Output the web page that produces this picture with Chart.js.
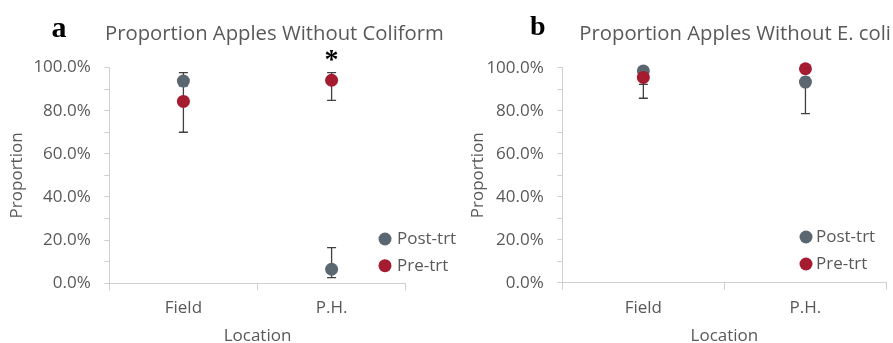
<!DOCTYPE html>
<html>
<head>
<meta charset="utf-8">
<script src="https://cdn.jsdelivr.net/npm/chart.js@4/dist/chart.umd.min.js"></script>
<style>
  html, body { margin: 0; padding: 0; background: #ffffff; }
  body { width: 893px; height: 343px; position: relative; overflow: hidden; }
  .panel { position: absolute; top: 0; height: 343px; }
  #pa { left: 0; width: 470px; }
  #pb { left: 445px; width: 448px; }
</style>
</head>
<body>
<div class="panel" id="pa"><canvas id="ca" width="470" height="343"></canvas></div>
<div class="panel" id="pb"><canvas id="cb" width="448" height="343"></canvas></div>
<script>
// ---- data ----
const categories = ['Field', 'P.H.'];
const seriesNames = ['Post-trt', 'Pre-trt'];
const yTickLabels = ['0.0%', '20.0%', '40.0%', '60.0%', '80.0%', '100.0%'];

// Panel a: Proportion Apples Without Coliform
const coliformPost = [0.937, 0.065];
const coliformPostLow = [0.915, 0.026];
const coliformPostHigh = [0.976, 0.165];
const coliformPre = [0.843, 0.941];
const coliformPreLow = [0.700, 0.848];
const coliformPreHigh = [0.920, 0.976];

// Panel b: Proportion Apples Without E. coli
const ecoliPost = [0.985, 0.933];
const ecoliPostLow = [0.922, 0.786];
const ecoliPostHigh = [0.990, 0.955];
const ecoliPre = [0.955, 0.995];
const ecoliPreLow = [0.858, 0.985];
const ecoliPreHigh = [0.975, 0.998];

const POST_COLOR = '#5b6770';
const PRE_COLOR = '#a51b30';
const TEXT_COLOR = '#595959';
const AXIS_COLOR = '#d0d0d0';
const FONT = '"Open Sans", "DejaVu Sans", sans-serif';

const errorBarPlugin = {
  id: 'errorBars',
  beforeDatasetsDraw(chart) {
    const ctx = chart.ctx;
    const xs = chart.scales.x, ys = chart.scales.y;
    ctx.save();
    ctx.strokeStyle = '#404040';
    ctx.lineWidth = 1.3;
    chart.data.datasets.forEach(ds => {
      ds.data.forEach((v, i) => {
        const x = xs.getPixelForValue(i);
        const yl = ys.getPixelForValue(ds.errLow[i]);
        const yh = ys.getPixelForValue(ds.errHigh[i]);
        ctx.beginPath();
        ctx.moveTo(x, yl); ctx.lineTo(x, yh);
        ctx.moveTo(x - 4.5, yl); ctx.lineTo(x + 4.5, yl);
        ctx.moveTo(x - 4.5, yh); ctx.lineTo(x + 4.5, yh);
        ctx.stroke();
      });
    });
    ctx.restore();
  }
};

const decorPlugin = {
  id: 'decor',
  afterDraw(chart, args, opts) {
    const ctx = chart.ctx;
    ctx.save();
    // panel letter
    ctx.fillStyle = '#000000';
    ctx.textBaseline = 'alphabetic';
    ctx.textAlign = 'left';
    ctx.font = 'bold ' + opts.letterSize + 'px "Liberation Serif", serif';
    ctx.fillText(opts.letter, opts.letterX, opts.letterY);
    // title
    ctx.fillStyle = TEXT_COLOR;
    ctx.font = '20.3px ' + FONT;
    ctx.fillText(opts.title, opts.titleX, opts.titleY);
    // significance marker
    if (opts.star) {
      const xs = chart.scales.x;
      ctx.fillStyle = '#000000';
      ctx.textAlign = 'center';
      ctx.font = 'bold 28px "Liberation Serif", serif';
      ctx.fillText(opts.star.text, xs.getPixelForValue(opts.star.index), opts.star.y);
    }
    // legend
    ctx.textAlign = 'left';
    ctx.textBaseline = 'middle';
    ctx.font = '17px ' + FONT;
    chart.data.datasets.forEach((ds, k) => {
      const y = opts.legendY[k];
      ctx.fillStyle = ds.pointBackgroundColor;
      ctx.beginPath();
      ctx.arc(opts.legendDotX, y, 6.5, 0, Math.PI * 2);
      ctx.fill();
      ctx.fillStyle = TEXT_COLOR;
      ctx.fillText(ds.label, opts.legendTextX, y);
    });
    ctx.restore();
  }
};

function makeChart(canvasId, post, postLow, postHigh, pre, preLow, preHigh, layout, decor) {
  return new Chart(document.getElementById(canvasId), {
    type: 'line',
    data: {
      labels: categories,
      datasets: [
        { label: seriesNames[0], data: post, errLow: postLow, errHigh: postHigh, clip: false,
          showLine: false, order: 1, pointRadius: 6.5, pointHoverRadius: 6.5, pointBorderWidth: 0,
          pointBackgroundColor: POST_COLOR, pointBorderColor: POST_COLOR, borderColor: POST_COLOR },
        { label: seriesNames[1], data: pre, errLow: preLow, errHigh: preHigh, clip: false,
          showLine: false, order: 0, pointRadius: 6.5, pointHoverRadius: 6.5, pointBorderWidth: 0,
          pointBackgroundColor: PRE_COLOR, pointBorderColor: PRE_COLOR, borderColor: PRE_COLOR }
      ]
    },
    options: {
      responsive: false,
      animation: false,
      events: [],
      layout: { padding: { left: 0, top: layout.top, right: layout.right, bottom: 0 } },
      plugins: {
        legend: { display: false },
        tooltip: { enabled: false },
        title: { display: false },
        decor: decor
      },
      scales: {
        x: {
          type: 'category',
          offset: true,
          afterFit: s => { s.height = layout.xHeight; },
          grid: { display: true, offset: true, drawOnChartArea: false, drawTicks: true,
                  tickLength: 7, color: AXIS_COLOR, lineWidth: 1 },
          border: { display: true, color: AXIS_COLOR, width: 1 },
          ticks: { color: TEXT_COLOR, font: { family: FONT, size: 17 }, padding: 8, maxRotation: 0 },
          title: { display: true, text: 'Location', color: TEXT_COLOR,
                   font: { family: FONT, size: 17 }, padding: { top: 0, bottom: layout.xTitlePad } }
        },
        y: {
          min: 0, max: 1,
          afterFit: s => { s.width = layout.yWidth; },
          grid: { display: true, drawOnChartArea: false, drawTicks: true,
                  tickLength: 5, color: AXIS_COLOR, lineWidth: 1 },
          border: { display: true, color: AXIS_COLOR, width: 1 },
          ticks: {
            stepSize: 0.1, autoSkip: false, color: TEXT_COLOR, padding: 13.5,
            font: { family: FONT, size: 17 },
            callback: (v, i) => (i % 2 === 0 ? yTickLabels[i / 2] : '')
          },
          title: { display: true, text: 'Proportion', color: TEXT_COLOR,
                   font: { family: FONT, size: 17 }, padding: { top: layout.yTitlePad, bottom: 0 } }
        }
      }
    },
    plugins: [errorBarPlugin, decorPlugin]
  });
}

makeChart('ca', coliformPost, coliformPostLow, coliformPostHigh,
          coliformPre, coliformPreLow, coliformPreHigh,
          { top: 67.5, right: 470 - 405.7, xHeight: 343 - 283.3, yWidth: 109.3, xTitlePad: -3, yTitlePad: 6.8 },
          { letter: 'a', letterSize: 30, letterX: 51.5, letterY: 36.7,
            title: 'Proportion Apples Without Coliform', titleX: 105, titleY: 40,
            star: { text: '*', index: 1, y: 68 },
            legendDotX: 385, legendTextX: 397, legendY: [239, 265.7] });

makeChart('cb', ecoliPost, ecoliPostLow, ecoliPostHigh,
          ecoliPre, ecoliPreLow, ecoliPreHigh,
          { top: 67.7, right: 448 - 442.3, xHeight: 343 - 282.7, yWidth: 117.3, xTitlePad: -3, yTitlePad: 22.8 },
          { letter: 'b', letterSize: 28, letterX: 85, letterY: 35,
            title: 'Proportion Apples Without E. coli', titleX: 134.3, titleY: 40,
            star: null,
            legendDotX: 361, legendTextX: 371, legendY: [237, 264] });
</script>
</body>
</html>
